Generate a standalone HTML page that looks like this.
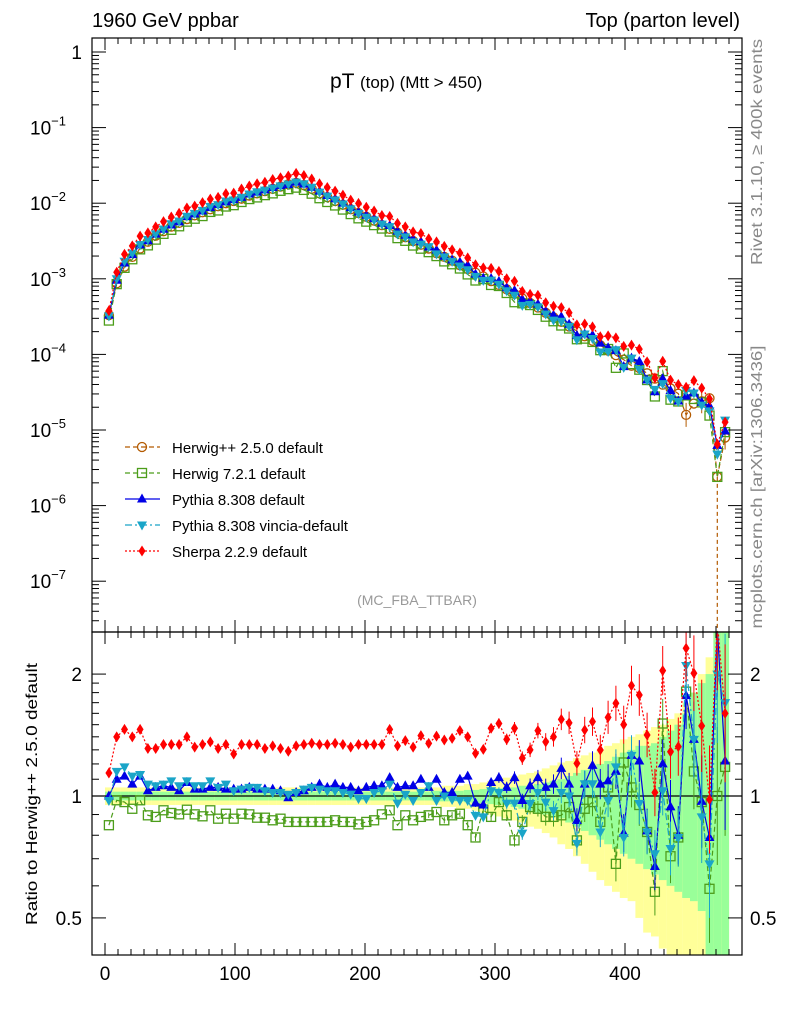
<!DOCTYPE html>
<html><head><meta charset="utf-8"><style>
body{margin:0;background:#fff}
svg{display:block;font-family:"Liberation Sans",sans-serif}
</style></head><body>
<svg id="c" width="786" height="1024" viewBox="0 0 786 1024"></svg>
<script>
const bins=[];for(let i=0;i<80;i++)bins.push(3+6*i);
const refLog=[-3.48,-3.06,-2.84,-2.71,-2.60,-2.51,-2.43,-2.37,-2.31,-2.26,-2.21,-2.16,-2.12,-2.08,-2.04,-2.00,-1.97,-1.94,-1.90,-1.87,-1.84,-1.81,-1.78,-1.75,-1.73,
-1.76,-1.81,-1.87,-1.92,-1.97,-2.02,-2.08,-2.13,-2.18,-2.23,-2.29,-2.34,-2.39,-2.45,-2.50,-2.55,-2.60,-2.66,-2.71,-2.76,-2.82,-2.87,-2.92,-2.97,-3.03,-3.08,-3.14,
-3.20,-3.26,-3.32,-3.38,-3.45,-3.51,-3.57,-3.63,-3.69,-3.76,-3.82,-3.88,-3.95,
-4.01,-4.07,-4.15,-4.18,-4.25,-4.32,-4.40,-4.45,-4.52,-4.80,-4.65,-4.62,-4.58,-5.62,-5.10];
const ratioSh=[1.14,1.40,1.46,1.40,1.46,1.31,1.31,1.34,1.34,1.34,1.40,1.32,1.34,1.36,1.31,1.34,1.27,1.34,1.34,1.34,1.31,1.33,1.31,1.29,1.33,1.34,1.35,1.34,1.34,1.35,1.34,1.32,1.34,1.34,1.34,1.34,1.46,1.33,1.37,1.32,1.41,
1.349,1.406,1.375,1.388,1.45,1.40,1.274,1.304,1.47,1.51,1.38,1.47,1.24,1.30,1.45,1.36,1.40,1.546,1.516,1.204,1.455,1.526,1.299,1.564,1.694,1.50,1.873,1.776,1.415,1.02,2.04,1.286,1.324,2.316,2.01,1.49,0.98,2.7,1.6];
const ratioPy=[1.0,1.10,1.12,1.07,1.12,1.03,1.05,1.06,1.05,1.03,1.08,1.04,1.04,1.05,1.05,1.04,1.04,1.04,1.05,1.04,1.04,1.04,1.03,0.99,1.02,1.03,1.05,1.07,1.05,1.07,1.05,1.05,1.03,1.05,1.06,1.06,1.11,1.05,1.06,1.06,1.10,
1.05,1.10,1.02,1.02,1.10,1.12,0.96,0.95,1.08,1.11,1.05,1.11,0.975,1.06,1.11,1.05,1.07,1.17,1.07,0.87,1.07,1.19,1.07,1.09,1.15,0.81,1.26,1.22,0.82,0.67,1.20,0.94,0.80,1.77,1.38,0.97,0.79,2.6,1.22];
const ratioVi=[0.975,1.15,1.18,1.12,1.13,1.07,1.06,1.07,1.09,1.06,1.09,1.06,1.06,1.09,1.05,1.07,1.03,1.04,1.05,1.05,1.03,1.02,1.02,1.01,1.02,1.04,1.05,1.04,1.03,1.03,1.02,1.01,0.985,0.985,1.02,1.03,1.07,0.96,1.01,0.975,1.02,
1.06,0.975,1.0,0.98,0.975,0.975,0.896,0.888,1.03,1.02,0.96,0.96,0.81,0.958,1.02,0.966,0.92,1.02,1.0,0.764,1.072,1.072,0.815,0.975,1.18,0.79,1.26,0.958,0.815,0.72,1.03,0.742,0.79,2.10,1.38,0.888,0.68,2.0,1.70];
const ratioH7=[0.847,0.976,0.966,0.93,0.976,0.896,0.888,0.922,0.908,0.901,0.925,0.901,0.891,0.922,0.879,0.904,0.879,0.904,0.901,0.884,0.884,0.871,0.879,0.863,0.863,0.863,0.863,0.863,0.863,0.871,0.863,0.863,0.851,0.863,0.871,0.901,0.922,0.847,0.896,0.871,0.888,
0.896,0.913,0.871,0.896,0.904,0.847,0.79,0.925,0.888,0.966,0.896,0.777,0.863,0.939,0.93,0.888,0.888,0.896,0.939,0.777,0.93,0.966,0.863,1.05,0.68,1.21,1.05,0.95,0.815,0.58,1.51,0.71,0.79,1.81,1.15,0.966,0.59,1.0,1.18];
const yellowHi=[1.05,1.05,1.05,1.05,1.05,1.05,1.05,1.05,1.05,1.05,1.05,1.05,1.05,1.05,1.05,1.05,1.05,1.05,1.05,1.05,1.05,1.05,1.05,1.05,1.05,1.05,1.05,1.05,1.05,1.05,1.05,1.05,1.05,1.05,1.05,1.05,1.05,1.05,1.05,1.05,1.05,
1.05,1.05,1.06,1.06,1.06,1.07,1.07,1.08,1.09,1.10,1.11,1.12,1.13,1.14,1.15,1.17,1.19,1.21,1.22,1.24,1.26,1.28,1.30,1.33,1.35,1.38,1.40,1.42,1.45,1.48,1.50,1.55,1.60,1.70,1.80,2.0,2.2,2.6,2.6];
const yellowLo=[0.95,0.95,0.95,0.95,0.95,0.95,0.95,0.95,0.95,0.95,0.95,0.95,0.95,0.95,0.95,0.95,0.95,0.95,0.95,0.95,0.95,0.95,0.95,0.95,0.95,0.95,0.95,0.95,0.95,0.95,0.95,0.95,0.95,0.95,0.95,0.95,0.95,0.95,0.95,0.95,0.95,
0.95,0.95,0.94,0.94,0.93,0.93,0.92,0.91,0.90,0.89,0.88,0.87,0.86,0.84,0.83,0.81,0.79,0.76,0.74,0.71,0.68,0.65,0.62,0.60,0.58,0.56,0.55,0.50,0.46,0.45,0.42,0.40,0.38,0.35,0.33,0.30,0.30,0.30,0.30];
const greenHi=[1.025,1.025,1.025,1.025,1.025,1.025,1.025,1.025,1.025,1.025,1.025,1.025,1.025,1.025,1.025,1.025,1.025,1.025,1.025,1.025,1.025,1.025,1.025,1.025,1.025,1.025,1.025,1.025,1.025,1.025,1.025,1.025,1.025,1.025,1.025,1.025,1.025,1.025,1.025,1.025,1.025,
1.025,1.03,1.03,1.03,1.03,1.035,1.035,1.04,1.04,1.045,1.05,1.05,1.06,1.06,1.07,1.08,1.09,1.10,1.12,1.14,1.16,1.18,1.20,1.22,1.25,1.28,1.30,1.33,1.33,1.35,1.40,1.45,1.50,1.60,1.80,1.9,2.0,2.6,2.6];
const greenLo=[0.975,0.975,0.975,0.975,0.975,0.975,0.975,0.975,0.975,0.975,0.975,0.975,0.975,0.975,0.975,0.975,0.975,0.975,0.975,0.975,0.975,0.975,0.975,0.975,0.975,0.975,0.975,0.975,0.975,0.975,0.975,0.975,0.975,0.975,0.975,0.975,0.975,0.975,0.975,0.975,0.975,
0.975,0.97,0.97,0.97,0.97,0.965,0.96,0.96,0.955,0.95,0.95,0.94,0.93,0.92,0.91,0.90,0.89,0.88,0.86,0.84,0.82,0.80,0.78,0.76,0.74,0.72,0.70,0.68,0.66,0.64,0.62,0.60,0.58,0.56,0.55,0.52,0.30,0.30,0.30];
const xTicks=[0,100,200,300,400];
const mainTickExp=[0,-1,-2,-3,-4,-5,-6,-7];
const ratioTicks=[0.5,1,2];

const NS="http://www.w3.org/2000/svg",svg=document.getElementById('c');
function el(t,a,p){const e=document.createElementNS(NS,t);for(const k in a)e.setAttribute(k,a[k]);(p||svg).appendChild(e);return e;}
const L=92,R=742,T=38,M=632,B=955;
const X=v=>105+v*1.30;
const Ym=lg=>52-lg*75.6;
const Yr=r=>796-Math.log10(r)*405;
const cl=y=>Math.max(M,Math.min(B,y));

const defs=el('defs',{});
const cm=el('clipPath',{id:'cm'},defs);el('rect',{x:L,y:T,width:R-L,height:M-T},cm);
const cr=el('clipPath',{id:'cr'},defs);el('rect',{x:L,y:M,width:R-L,height:B-M},cr);

const bandG=el('g',{});


bins.forEach((b,i)=>{
  let y1=cl(Yr(yellowHi[i])),y2=cl(Yr(yellowLo[i]));
  el('rect',{x:X(b-3),y:y1,width:7.9,height:y2-y1,fill:'#ffff99'},bandG);
  y1=cl(Yr(greenHi[i]));y2=cl(Yr(greenLo[i]));
  el('rect',{x:X(b-3),y:y1,width:7.9,height:y2-y1,fill:'#99ff99'},bandG);
});
el('line',{x1:L,x2:R,y1:Yr(1),y2:Yr(1),stroke:'#000','stroke-width':1.2});

const series=[
 {name:'herwigpp',col:'#b35a00',dash:'5,3',m:'circle',r:bins.map(()=>1),lab:'Herwig++ 2.5.0 default'},
 {name:'herwig7',col:'#4c9d1a',dash:'5,3',m:'square',r:ratioH7,lab:'Herwig 7.2.1 default'},
 {name:'pythia',col:'#0000e6',dash:'',m:'up',r:ratioPy,lab:'Pythia 8.308 default'},
 {name:'vincia',col:'#1aa5c8',dash:'7,3,2,3',m:'down',r:ratioVi,lab:'Pythia 8.308 vincia-default'},
 {name:'sherpa',col:'#ff0000',dash:'2,2',m:'diamond',r:ratioSh,lab:'Sherpa 2.2.9 default'}
];
function marker(g,m,x,y,c){
  if(m==='circle')el('circle',{cx:x,cy:y,r:4.5,fill:'none',stroke:c,'stroke-width':1.3},g);
  else if(m==='square')el('rect',{x:x-4.5,y:y-4.5,width:9,height:9,fill:'none',stroke:c,'stroke-width':1.3},g);
  else if(m==='up')el('path',{d:`M${x},${y-5.5}L${x+5},${y+3.5}L${x-5},${y+3.5}Z`,fill:c},g);
  else if(m==='down')el('path',{d:`M${x},${y+5.5}L${x+5},${y-3.5}L${x-5},${y-3.5}Z`,fill:c},g);
  else el('path',{d:`M${x},${y-5.5}L${x+3.5},${y}L${x},${y+5.5}L${x-3.5},${y}Z`,fill:c},g);
}
series.forEach(s=>{
  const gm=el('g',{'clip-path':'url(#cm)'});
  
  
  const gr=el('g',{'clip-path':'url(#cr)'});
  
  
  const pm=bins.map((b,i)=>[X(b),Ym(refLog[i]+Math.log10(s.r[i]))]);
  const pr=bins.map((b,i)=>[X(b),Yr(s.r[i])]);
  const d=p=>'M'+p.map(q=>q[0].toFixed(1)+','+q[1].toFixed(1)).join('L');
  el('path',{d:d(pm),fill:'none',stroke:s.col,'stroke-width':1.2,'stroke-dasharray':s.dash},gm);
  if(s.name==='herwigpp'){
    el('line',{x1:X(bins[78]),x2:X(bins[78]),y1:pm[78][1],y2:M,stroke:s.col,'stroke-width':1.2,'stroke-dasharray':'4,3'},gm);
    [72,74,76,79].forEach(i=>el('line',{x1:pm[i][0],x2:pm[i][0],y1:pm[i][1]-12,y2:pm[i][1]+12,stroke:s.col,'stroke-width':1},gm));
  }
  if(s.name!=='herwigpp')el('path',{d:d(pr),fill:'none',stroke:s.col,'stroke-width':1.2,'stroke-dasharray':s.dash},gr);
  pm.forEach(p=>marker(gm,s.m,p[0],p[1],s.col));
  if(s.name!=='herwigpp')pr.forEach((p,i)=>{
    if(i>40){const e=(yellowHi[i]-1)*0.3;el('line',{x1:p[0],x2:p[0],y1:Yr(s.r[i]*(1+e)),y2:Yr(s.r[i]/(1+e)),stroke:s.col,'stroke-width':1},gr);}
    marker(gr,s.m,p[0],p[1],s.col);});
});

el('rect',{x:L,y:T,width:R-L,height:M-T,fill:'none',stroke:'#000','stroke-width':1.2});
el('rect',{x:L,y:M,width:R-L,height:B-M,fill:'none',stroke:'#000','stroke-width':1.2});
function txt(s,a,name){const t=el('text',a);t.textContent=s;return t;}
xTicks.forEach(v=>{
  [[M,-12],[B,-12],[T,12],[M,12]].forEach(q=>el('line',{x1:X(v),x2:X(v),y1:q[0],y2:q[0]+q[1],stroke:'#000'}));
  txt(String(v),{x:X(v),y:980,'font-size':19,'text-anchor':'middle'},'x-tick-label');
});
for(let v=-0;v<=480;v+=10){if(v%100)[[M,-6],[B,-6],[T,6],[M,6]].forEach(q=>el('line',{x1:X(v),x2:X(v),y1:q[0],y2:q[0]+q[1],stroke:'#000'}));}
mainTickExp.forEach(e=>{
  const y=Ym(e);el('line',{x1:L,x2:L+14,y1:y,y2:y,stroke:'#000'});el('line',{x1:R,x2:R-14,y1:y,y2:y,stroke:'#000'});
  const t=txt(e===0?'1':'10',{x:e===0?82:66,y:y+7,'font-size':19,'text-anchor':'end'},'y-tick-label');
  if(e!==0){const s=el('tspan',{dy:-9,'font-size':13});s.textContent='\u2212'+(-e);t.appendChild(s);}
  for(let k=2;k<10;k++){const yy=Ym(e-1+Math.log10(k));if(yy<M&&yy>T){el('line',{x1:L,x2:L+7,y1:yy,y2:yy,stroke:'#000'});el('line',{x1:R,x2:R-7,y1:yy,y2:yy,stroke:'#000'});}}
});
ratioTicks.forEach(r=>{const y=Yr(r);el('line',{x1:L,x2:L+14,y1:y,y2:y,stroke:'#000'});el('line',{x1:R,x2:R-14,y1:y,y2:y,stroke:'#000'});
  txt(String(r),{x:82,y:y+7,'font-size':19,'text-anchor':'end'},'ratio-tick-label');txt(String(r),{x:750,y:y+7,'font-size':19},'ratio-tick-label-right');});
[0.6,0.7,0.8,0.9,1.1,1.2,1.3,1.4,1.5,1.6,1.7,1.8,1.9].forEach(r=>{const y=Yr(r);el('line',{x1:L,x2:L+7,y1:y,y2:y,stroke:'#000'});el('line',{x1:R,x2:R-7,y1:y,y2:y,stroke:'#000'});});
txt('1960 GeV ppbar',{x:92,y:27,'font-size':20},'energy-label');
txt('Top (parton level)',{x:740,y:27,'font-size':20,'text-anchor':'end'},'process-label');
const ti=txt('pT ',{x:330,y:88,'font-size':21},'plot-title');const ts=el('tspan',{'font-size':17});ts.textContent='(top) (Mtt > 450)';ti.appendChild(ts);
txt('(MC_FBA_TTBAR)',{x:417,y:605,'font-size':14,fill:'#999','text-anchor':'middle'},'analysis-label');
txt('Rivet 3.1.10, \u2265 400k events',{x:0,y:0,'font-size':16,fill:'#888','text-anchor':'middle',textLength:226,lengthAdjust:'spacingAndGlyphs',transform:'translate(762,152) rotate(-90)'},'rivet-label');
txt('mcplots.cern.ch [arXiv:1306.3436]',{x:0,y:0,'font-size':16,fill:'#888','text-anchor':'middle',textLength:283,lengthAdjust:'spacingAndGlyphs',transform:'translate(762,487) rotate(-90)'},'mcplots-label');
txt('Ratio to Herwig++ 2.5.0 default',{x:0,y:0,'font-size':16,'text-anchor':'middle',textLength:262,lengthAdjust:'spacingAndGlyphs',transform:'translate(37,794) rotate(-90)'},'y-axis-title');
series.forEach((s,i)=>{const g=el('g',{});
  
  
  const y=447+i*26;el('line',{x1:125,x2:160,y1:y,y2:y,stroke:s.col,'stroke-width':1.2,'stroke-dasharray':s.dash},g);marker(g,s.m,142,y,s.col);
  const t=el('text',{x:172,y:y+6,'font-size':15},g);t.textContent=s.lab;});
</script>
</body></html>
